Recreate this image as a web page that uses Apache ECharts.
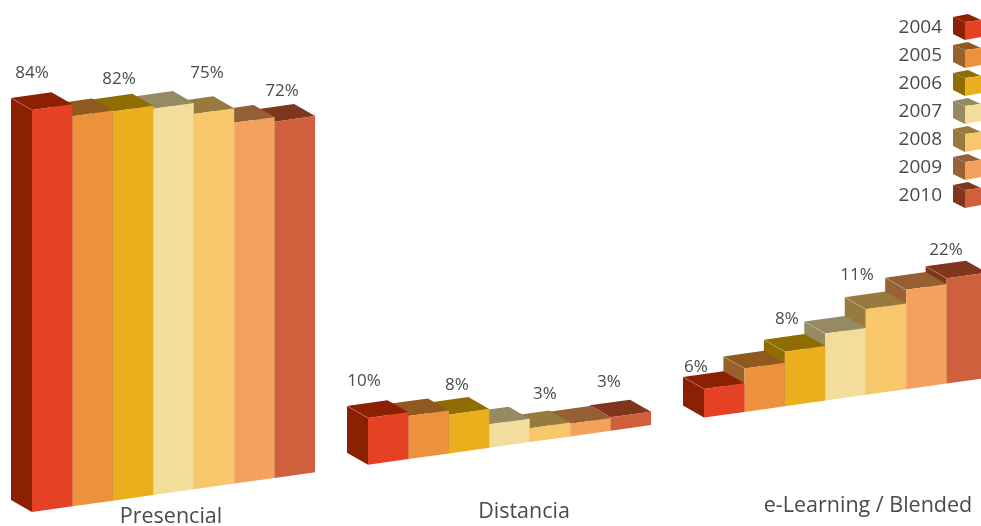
<!DOCTYPE html>
<html><head><meta charset="utf-8"><style>html,body{margin:0;padding:0;background:#fff;overflow:hidden}#c{width:981px;height:526px}</style>
<script src="https://cdn.jsdelivr.net/npm/echarts@6/dist/echarts.min.js"></script></head><body><div id="c"></div>
<script>
const years=['2004','2005','2006','2007','2008','2009','2010'];
const categories=['Presencial','Distancia','e-Learning / Blended'];
const presencial=[84.1,81.6,81.4,80.8,78.5,75.5,74.5];
const distancia=[9.8,9.0,8.1,4.9,2.9,2.65,2.8];
const elearning=[6.0,9.1,11.4,14.0,17.9,20.8,22.0];
const frontColors=['#E54125','#EC923C','#EBAF1E','#F3DD9C','#F8C66B','#F4A15D','#CF5F3D'];
const topColors=['#8B2003','#90591D','#8F6D00','#968A63','#987A3E','#946033','#7F361D'];
const sideColors=['#8B2003','#96612A','#8F6D00','#968A63','#987A3E','#966236','#7F361D'];
const shownLabels=['84%','82%','75%','72%','10%','8%','3%','3%','6%','8%','11%','22%'];
const labelSpots=[[32,73],[119,79],[207,73],[282,91],[364,381],[457,385],[545,394],[609,382],[696,367],[787,319],[857,275],[946,250]];
const categorySpots=[[171,517],[524,512],[868,506]];
const groupStart=[0,8.31,16.62];
const groups=[presencial,distancia,elearning];
const SLOPE=0.1405,DX=-21,DY=-12,X0=32;
const ink='#4a4a4a',font='"Open Sans","Noto Sans",sans-serif';
function sh(x){return -SLOPE*(x-X0);}
function cubeIcon(i){
  const svg=`<svg xmlns="http://www.w3.org/2000/svg" width="28" height="27"><polygon points="0,3 12,8 12,26 0,20" fill="${sideColors[i]}"/><polygon points="0,3 15,0 28,6 12,8" fill="${topColors[i]}"/><polygon points="12,8 28,6 28,23 12,26" fill="${frontColors[i]}"/></svg>`;
  return 'image://data:image/svg+xml;charset=utf-8,'+encodeURIComponent(svg);
}
function renderBar(color){return function(params,api){
  const s=api.value(0),v=api.value(1);
  const a=api.coord([s,0]),b=api.coord([s+1,v]);
  const x1=a[0],x2=b[0];
  const by1=a[1]+sh(x1),by2=a[1]+sh(x2),ty1=b[1]+sh(x1),ty2=b[1]+sh(x2);
  return {type:'group',children:[
    {type:'polygon',shape:{points:[[x1+DX,ty1+DY],[x1,ty1],[x1,by1],[x1+DX,by1+DY]]},style:{fill:color.side}},
    {type:'polygon',shape:{points:[[x1+DX,ty1+DY],[x2+DX,ty2+DY],[x2,ty2],[x1,ty1]]},style:{fill:color.top}},
    {type:'polygon',shape:{points:[[x1,ty1],[x2,ty2],[x2,by2],[x1,by1]]},style:{fill:color.front}},
    {type:'line',shape:{x1:x1+DX,y1:ty1+DY,x2:x1,y2:ty1},style:{stroke:'rgba(255,255,255,0.35)',lineWidth:0.6}}
  ]};
};}
const series=years.map((y,i)=>({
  name:y,type:'custom',coordinateSystem:'cartesian2d',silent:true,
  itemStyle:{color:frontColors[i]},
  renderItem:renderBar({front:frontColors[i],top:topColors[i],side:sideColors[i]}),
  data:groups.map((g,k)=>[groupStart[k]+i,g[i]])
})).reverse();
const textItems=[];
shownLabels.forEach((t,i)=>textItems.push({type:'text',x:labelSpots[i][0],y:labelSpots[i][1],style:{text:t,fill:ink,font:'17px '+font,textAlign:'center',textVerticalAlign:'middle'}}));
categories.forEach((t,i)=>textItems.push({type:'text',x:categorySpots[i][0],y:categorySpots[i][1],style:{text:t,fill:ink,font:'21.5px '+font,textAlign:'center',textVerticalAlign:'middle'}}));
const chart=echarts.init(document.getElementById('c'),null,{renderer:'canvas'});
chart.setOption({
  animation:false,
  grid:{left:32,right:0,top:0,bottom:14},
  xAxis:{type:'value',min:0,max:23.47,show:false},
  yAxis:{type:'value',min:0,max:107.1,show:false},
  legend:{orient:'vertical',right:0,top:14,align:'right',itemWidth:28,itemHeight:27,itemGap:1,selectedMode:false,
    textStyle:{color:ink,fontSize:19,fontFamily:font,padding:[0,6,0,0]},
    padding:0,
    data:years.map((y,i)=>({name:y,icon:cubeIcon(i)}))},
  graphic:textItems,
  series
});
</script></body></html>
